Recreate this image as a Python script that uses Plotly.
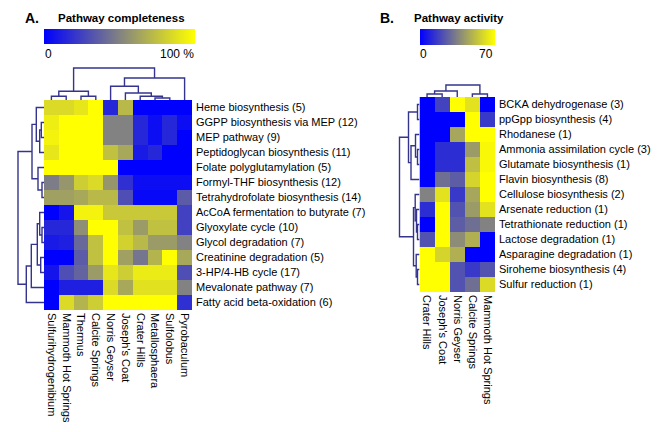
import plotly.graph_objects as go

W, H = 661, 432

# ---------------- data: panel A ----------------
cols_a = ["Sulfurihydrogenibium", "Mammoth Hot Springs", "Thermus", "Calcite Springs",
          "Norris Geyser", "Joseph's Coat", "Crater Hills", "Metallosphaera",
          "Sulfolobus", "Pyrobaculum"]
rows_a = ["Heme biosynthesis (5)", "GGPP biosynthesis via MEP (12)", "MEP pathway (9)",
          "Peptidoglycan biosynthesis (11)", "Folate polyglutamylation (5)",
          "Formyl-THF biosynthesis (12)", "Tetrahydrofolate biosynthesis (14)",
          "AcCoA fermentation to butyrate (7)", "Glyoxylate cycle (10)",
          "Glycol degradation (7)", "Creatinine degradation (5)", "3-HP/4-HB cycle (17)",
          "Mevalonate pathway (7)", "Fatty acid beta-oxidation (6)"]
z_a = [
    [85, 85, 90, 100, 15, 72, 0, 0, 0, 0],
    [93, 100, 100, 100, 50, 50, 15, 5, 15, 5],
    [95, 100, 100, 100, 50, 50, 15, 5, 15, 0],
    [90, 100, 100, 100, 75, 65, 10, 15, 0, 0],
    [100, 100, 100, 100, 100, 0, 0, 0, 0, 0],
    [48, 58, 80, 85, 58, 18, 5, 5, 5, 5],
    [62, 62, 65, 72, 72, 30, 3, 3, 3, 35],
    [0, 8, 95, 95, 78, 78, 78, 78, 78, 25],
    [15, 15, 55, 100, 100, 75, 60, 75, 75, 25],
    [10, 12, 40, 75, 100, 82, 72, 60, 60, 50],
    [0, 0, 35, 75, 100, 62, 45, 70, 100, 65],
    [8, 30, 38, 60, 90, 80, 92, 92, 92, 30],
    [0, 12, 12, 12, 85, 65, 88, 88, 88, 50],
    [0, 85, 70, 80, 100, 100, 100, 100, 100, 18],
]
# dendrogram merges: (left, right, height) ; leaves = display order indices
col_merges_a = [(0, 1, 3.7), (2, 3, 3.7), (10, 11, 8.7), (7, 8, 2), (6, 13, 3.7),
                (5, 14, 7), (4, 15, 13.7), (16, 9, 22), (12, 17, 32)]
row_merges_a = [(1, 2, 2.7), (14, 3, 4.3), (0, 15, 7.7), (5, 6, 2), (4, 17, 6),
                (16, 18, 12), (8, 9, 2), (7, 20, 4.3), (10, 11, 3.3), (21, 22, 6.7),
                (23, 12, 12.7), (24, 13, 17.7), (19, 25, 26)]

# ---------------- data: panel B ----------------
cols_b = ["Crater Hills", "Joseph's Coat", "Norris Geyser", "Calcite Springs",
          "Mammoth Hot Springs"]
rows_b = ["BCKA dehydrogenase (3)", "ppGpp biosynthesis (4)", "Rhodanese (1)",
          "Ammonia assimilation cycle (3)", "Glutamate biosynthesis (1)",
          "Flavin biosynthesis (8)", "Cellulose biosynthesis (2)", "Arsenate reduction (1)",
          "Tetrathionate reduction (1)", "Lactose degradation (1)",
          "Asparagine degradation (1)", "Siroheme biosynthesis (4)", "Sulfur reduction (1)"]
z_b = [
    [0, 18, 70, 62, 0],
    [0, 0, 0, 70, 15],
    [0, 0, 45, 70, 70],
    [0, 12, 12, 42, 68],
    [0, 12, 12, 52, 68],
    [0, 30, 25, 58, 70],
    [35, 62, 15, 45, 70],
    [12, 70, 22, 42, 62],
    [0, 70, 25, 30, 35],
    [22, 70, 38, 48, 0],
    [70, 58, 48, 0, 0],
    [70, 70, 22, 15, 22],
    [70, 70, 22, 30, 60],
]
col_merges_b = [(0, 1, 3), (5, 2, 6), (3, 4, 3), (6, 7, 12)]
row_merges_b = [(0, 1, 2), (3, 4, 2), (2, 14, 4), (15, 5, 8.5), (13, 16, 11),
                (8, 9, 2), (7, 18, 3), (6, 19, 4.3), (11, 12, 2), (10, 21, 3.3),
                (20, 22, 6), (17, 23, 20)]

# ---------------- styling ----------------
FONT = "Arial"
CSCALE = [[0, "#0000ff"], [0.5, "#828282"], [1, "#ffff00"]]
DCOL = "#34348f"


def dendro(merges, n):
    pos = {i: float(i) for i in range(n)}
    hgt = {i: 0.0 for i in range(n)}
    a, b = [], []
    for k, (l, r, h) in enumerate(merges):
        a += [pos[l], pos[l], pos[r], pos[r], None]
        b += [hgt[l], h, h, hgt[r], None]
        pos[n + k] = (pos[l] + pos[r]) / 2
        hgt[n + k] = h
    return a, b


def px(x0, x1):
    return [x0 / W, x1 / W]


def py(y_top, y_bot):
    return [1 - y_bot / H, 1 - y_top / H]


fig = go.Figure()

# geometry (pixels)
A_L, A_R, A_T, A_B = 36, 184, 92, 302
B_L, B_R, B_T, B_B = 411.5, 487, 89, 284

# heatmap A
fig.add_trace(go.Heatmap(z=z_a, x=cols_a, y=rows_a, colorscale=CSCALE, zmin=0, zmax=100,
                         xaxis="x", yaxis="y", xgap=0, ygap=0,
                         colorbar=dict(orientation="h", x=A_L / W, xanchor="left",
                                       y=1 - 36 / H, yanchor="bottom", len=151,
                                       lenmode="pixels", thickness=15, outlinewidth=0,
                                       showticklabels=False, ticks="", xpad=0, ypad=0)))
# heatmap B
fig.add_trace(go.Heatmap(z=z_b, x=cols_b, y=rows_b, colorscale=CSCALE, zmin=0, zmax=70,
                         xaxis="x4", yaxis="y4",
                         colorbar=dict(orientation="h", x=B_L / W, xanchor="left",
                                       y=1 - 37 / H, yanchor="bottom", len=75,
                                       lenmode="pixels", thickness=16, outlinewidth=0,
                                       showticklabels=False, ticks="", xpad=0, ypad=0)))

# dendrograms
a, b = dendro(col_merges_a, len(cols_a))
fig.add_trace(go.Scatter(x=a, y=b, mode="lines", line=dict(color=DCOL, width=1.4),
                         xaxis="x2", yaxis="y2", hoverinfo="skip"))
a, b = dendro(row_merges_a, len(rows_a))
fig.add_trace(go.Scatter(x=b, y=a, mode="lines", line=dict(color=DCOL, width=1.4),
                         xaxis="x3", yaxis="y3", hoverinfo="skip"))
a, b = dendro(col_merges_b, len(cols_b))
fig.add_trace(go.Scatter(x=a, y=b, mode="lines", line=dict(color=DCOL, width=1.4),
                         xaxis="x5", yaxis="y5", hoverinfo="skip"))
a, b = dendro(row_merges_b, len(rows_b))
fig.add_trace(go.Scatter(x=b, y=a, mode="lines", line=dict(color=DCOL, width=1.4),
                         xaxis="x6", yaxis="y6", hoverinfo="skip"))

hidden = dict(visible=False, fixedrange=True)
tickfont = dict(family=FONT, size=11, color="#000000")
xt = dict(tickangle=90, tickfont=tickfont, showgrid=False, zeroline=False, ticks="",
          ticklen=0, showline=False, ticklabelstandoff=2)
yt = dict(side="right", autorange="reversed", tickfont=tickfont, showgrid=False,
          zeroline=False, ticks="", ticklen=0, ticklabelstandoff=3)

fig.update_layout(
    width=W, height=H, margin=dict(l=0, r=0, t=0, b=0),
    paper_bgcolor="white", plot_bgcolor="white", showlegend=False,
    xaxis=dict(domain=px(A_L, A_R), anchor="y", **xt),
    yaxis=dict(domain=py(A_T, A_B), anchor="x", **yt),
    xaxis2=dict(domain=px(A_L, A_R), anchor="y2", range=[-0.5, len(cols_a) - 0.5], **hidden),
    yaxis2=dict(domain=py(56, A_T), anchor="x2", range=[0, 36], **hidden),
    xaxis3=dict(domain=px(A_L - 30, A_L), anchor="y3", range=[30, 0], **hidden),
    yaxis3=dict(domain=py(A_T, A_B), anchor="x3", range=[len(rows_a) - 0.5, -0.5], **hidden),
    xaxis4=dict(domain=px(B_L, B_R), anchor="y4", **xt),
    yaxis4=dict(domain=py(B_T, B_B), anchor="x4", **yt),
    xaxis5=dict(domain=px(B_L, B_R), anchor="y5", range=[-0.5, len(cols_b) - 0.5], **hidden),
    yaxis5=dict(domain=py(B_T - 36, B_T), anchor="x5", range=[0, 36], **hidden),
    xaxis6=dict(domain=px(B_L - 30, B_L), anchor="y6", range=[30, 0], **hidden),
    yaxis6=dict(domain=py(B_T, B_B), anchor="x6", range=[len(rows_b) - 0.5, -0.5], **hidden),
)

ann = [
    ("A.", 15, 10, "left", 14, True),
    ("Pathway completeness", 48, 10, "left", 11.5, True),
    ("0", 35, 46, "left", 12, False),
    ("100 %", 188, 46, "right", 12, False),
    ("B.", 370, 10, "left", 14, True),
    ("Pathway activity", 404, 10, "left", 11.5, True),
    ("0", 410, 46, "left", 12, False),
    ("70", 487, 46, "right", 12, False),
]
for txt, x, y, anc, size, bold in ann:
    fig.add_annotation(text=f"<b>{txt}</b>" if bold else txt, x=x / W, y=1 - y / H,
                       xref="paper", yref="paper", xanchor=anc, yanchor="middle",
                       showarrow=False, font=dict(family=FONT, size=size, color="#000000"))

fig.write_html("out.html")
